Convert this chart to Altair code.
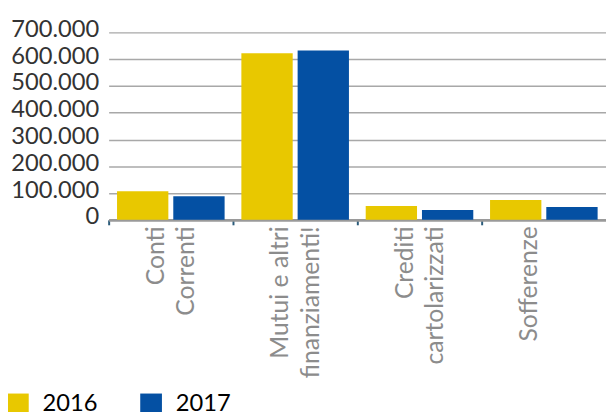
import altair as alt
import pandas as pd

categories = ["Conti|Correnti", "Mutui e altri|finanziamenti!", "Crediti|cartolarizzati", "Sofferenze"]
years = ["2016", "2017"]
v2016 = [107000, 622000, 52000, 74000]
v2017 = [88000, 632000, 37000, 48000]
colors = ["#E8C800", "#0450A3"]

rows = []
for c, a, b in zip(categories, v2016, v2017):
    rows.append({"cat": c, "year": "2016", "value": a})
    rows.append({"cat": c, "year": "2017", "value": b})
df = pd.DataFrame(rows)

chart = alt.Chart(df).mark_bar().encode(
    x=alt.X("cat:N", sort=categories, title=None,
            scale=alt.Scale(paddingInner=0, paddingOuter=0),
            axis=alt.Axis(labelAngle=-90, labelExpr="split(datum.label, '|')",
                          labelFont="Lato", labelFontSize=25, labelColor="#8c8c8c",
                          labelLineHeight=31, labelPadding=1, labelOffset=-15, bandPosition=0,
                          tickColor="#2b5b7a", tickSize=5, tickWidth=2,
                          domainColor="#9a9a9a", domainWidth=3, grid=False)),
    xOffset=alt.XOffset("year:N", sort=years,
                        scale=alt.Scale(paddingInner=0.0877, paddingOuter=0.149)),
    y=alt.Y("value:Q", title=None,
            scale=alt.Scale(domain=[0, 700000], nice=False),
            axis=alt.Axis(values=[0, 100000, 200000, 300000, 400000, 500000, 600000, 700000],
                          labelExpr="datum.value == 0 ? '0' : format(datum.value/1000, 'd') + '.000'",
                          labelFont="Lato", labelFontSize=24, labelColor="#333333",
                          labelPadding=10, labelOffset=-3, ticks=False, domain=False,
                          gridColor="#a8a8a8", gridWidth=1.5)),
    color=alt.Color("year:N", sort=years, scale=alt.Scale(domain=years, range=colors),
                    legend=alt.Legend(title=None, orient="none", legendX=-104, legendY=365,
                                      direction="horizontal", symbolType="square",
                                      symbolSize=484, symbolStrokeWidth=0,
                                      labelFont="Lato", labelFontSize=24, labelColor="#000000",
                                      labelOffset=13, columnPadding=42, padding=0)),
).properties(
    width=504, height=190,
    autosize=alt.AutoSizeParams(type="none"),
    padding={"left": 102, "top": 22, "right": 0, "bottom": 192},
).configure_view(stroke=None)

chart.save("out.html", embed_options={"renderer": "svg", "actions": False})
